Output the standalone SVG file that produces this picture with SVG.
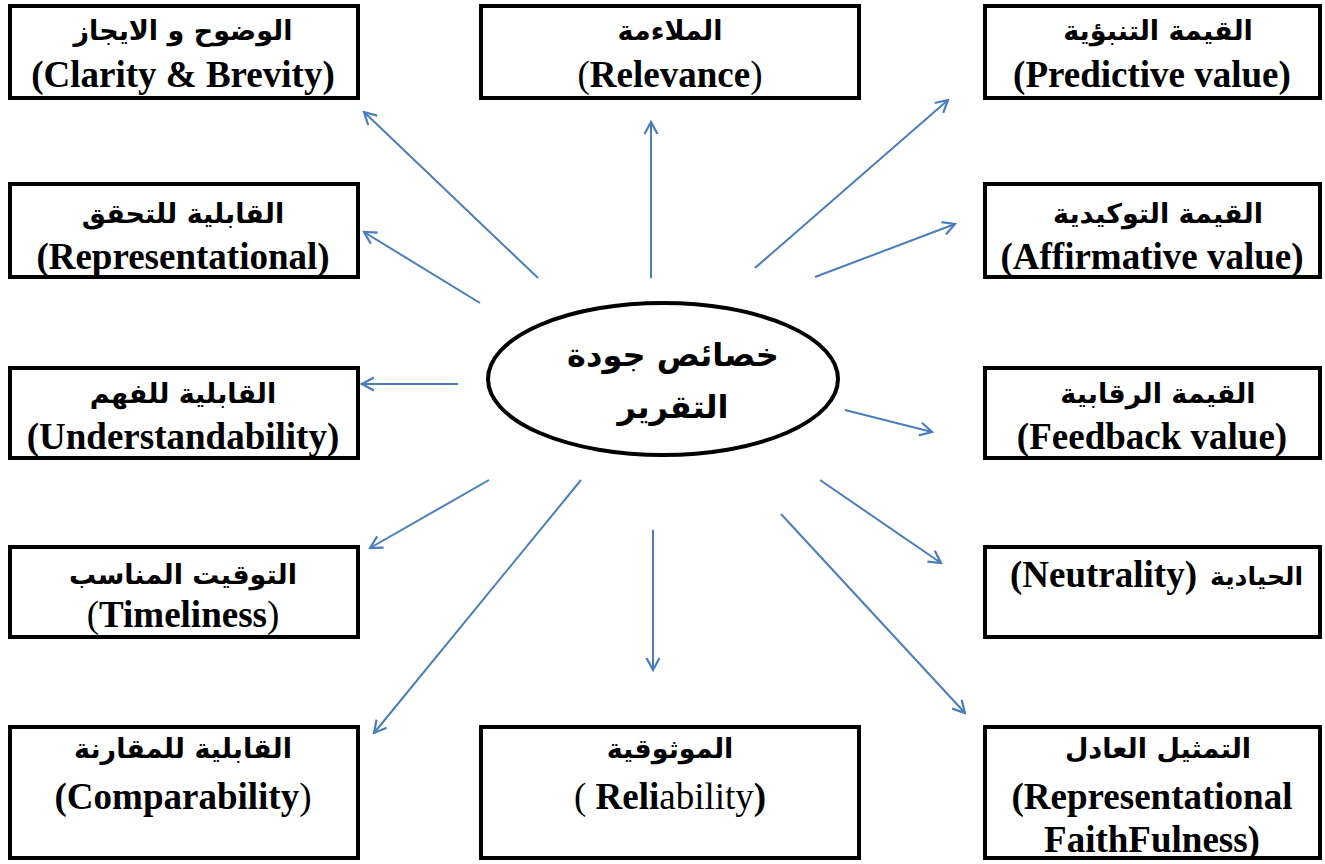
<svg xmlns="http://www.w3.org/2000/svg" width="1325" height="864" viewBox="0 0 1325 864">
<style>
.box{fill:#fff;stroke:#000;stroke-width:4}
.ar{font-family:"DejaVu Sans","Liberation Sans",sans-serif;font-weight:bold;font-size:27px;fill:#000;text-anchor:middle}
.en{font-family:"Liberation Serif","Times New Roman",serif;font-weight:bold;font-size:37px;fill:#000;text-anchor:middle}
.rg{font-weight:normal}
.cn{font-family:"DejaVu Sans","Liberation Sans",sans-serif;font-weight:bold;font-size:32px;fill:#000;text-anchor:middle}
.ar-line{fill:none;stroke:#4a7ebb;stroke-width:2;marker-end:url(#ah)}
</style>
<defs>
<marker id="ah" markerUnits="userSpaceOnUse" viewBox="0 0 16 16" markerWidth="16" markerHeight="16" refX="14" refY="8" orient="auto">
<path d="M2,1.5 L14,8 L2,14.5" fill="none" stroke="#4a7ebb" stroke-width="2.2"/>
</marker>
</defs>
<rect width="1325" height="864" fill="#fff"/>

<g id="connectors">
<line class="ar-line" x1="538" y1="278" x2="364" y2="112"/>
<line class="ar-line" x1="651" y1="278" x2="651" y2="122"/>
<line class="ar-line" x1="755" y1="268" x2="948" y2="100"/>
<line class="ar-line" x1="480" y1="303" x2="364" y2="232"/>
<line class="ar-line" x1="815" y1="277" x2="955" y2="224"/>
<line class="ar-line" x1="458" y1="384" x2="362" y2="384"/>
<line class="ar-line" x1="845" y1="410" x2="932" y2="432"/>
<line class="ar-line" x1="489" y1="480" x2="370" y2="548"/>
<line class="ar-line" x1="820" y1="480" x2="941" y2="563"/>
<line class="ar-line" x1="581" y1="480" x2="374" y2="733"/>
<line class="ar-line" x1="653" y1="530" x2="653" y2="670"/>
<line class="ar-line" x1="781" y1="514" x2="965" y2="713"/>
</g>

<g id="center">
<ellipse cx="663" cy="379" rx="175" ry="76" fill="#fff" stroke="#000" stroke-width="4"/>
<text class="cn" x="673" y="366">خصائص جودة</text>
<text class="cn" x="673" y="418">التقرير</text>
</g>

<g id="clarity">
<rect class="box" x="10" y="6" width="348" height="92"/>
<text class="ar" x="183" y="40">الوضوح و الايجاز</text>
<text class="en" x="183" y="87">(Clarity &amp; Brevity)</text>
</g>

<g id="relevance">
<rect class="box" x="481" y="6" width="378" height="92"/>
<text class="ar" x="670" y="40">الملاءمة</text>
<text class="en" x="670" y="87"><tspan class="rg">(</tspan>Relevance<tspan class="rg">)</tspan></text>
</g>

<g id="predictive">
<rect class="box" x="985" y="6" width="335" height="92"/>
<text class="ar" x="1158" y="40">القيمة التنبؤية</text>
<text class="en" x="1152" y="87">(Predictive value)</text>
</g>

<g id="representational">
<rect class="box" x="10" y="184" width="348" height="93"/>
<text class="ar" x="183" y="223">القابلية للتحقق</text>
<text class="en" x="183" y="269">(Representational)</text>
</g>

<g id="affirmative">
<rect class="box" x="985" y="184" width="335" height="93"/>
<text class="ar" x="1158" y="223">القيمة التوكيدية</text>
<text class="en" x="1152" y="269">(Affirmative value)</text>
</g>

<g id="understandability">
<rect class="box" x="10" y="368" width="348" height="90"/>
<text class="ar" x="183" y="403">القابلية للفهم</text>
<text class="en" x="183" y="449">(Understandability)</text>
</g>

<g id="feedback">
<rect class="box" x="985" y="368" width="335" height="90"/>
<text class="ar" x="1158" y="403">القيمة الرقابية</text>
<text class="en" x="1152" y="449">(Feedback value)</text>
</g>

<g id="timeliness">
<rect class="box" x="10" y="547" width="348" height="90"/>
<text class="ar" x="183" y="584">التوقيت المناسب</text>
<text class="en" x="183" y="627"><tspan class="rg">(</tspan>Timeliness<tspan class="rg">)</tspan></text>
</g>

<g id="neutrality">
<rect class="box" x="985" y="547" width="335" height="90"/>
<text class="en" x="1010" y="587" style="text-anchor:start">(Neutrality)</text>
<text class="ar" x="1303" y="585" style="text-anchor:end;font-size:25px">الحيادية</text>
</g>

<g id="comparability">
<rect class="box" x="10" y="727" width="348" height="131"/>
<text class="ar" x="183" y="758">القابلية للمقارنة</text>
<text class="en" x="183" y="809">(Comparability<tspan class="rg">)</tspan></text>
</g>

<g id="reliability">
<rect class="box" x="481" y="727" width="378" height="131"/>
<text class="ar" x="670" y="758">الموثوقية</text>
<text class="en" x="670" y="809"><tspan class="rg">( </tspan>Reli<tspan class="rg">ability</tspan>)</text>
</g>

<g id="faithfulness">
<rect class="box" x="985" y="727" width="335" height="131"/>
<text class="ar" x="1158" y="758">التمثيل العادل</text>
<text class="en" x="1152" y="809">(Representational</text>
<text class="en" x="1152" y="852">FaithFulness)</text>
</g>
</svg>
